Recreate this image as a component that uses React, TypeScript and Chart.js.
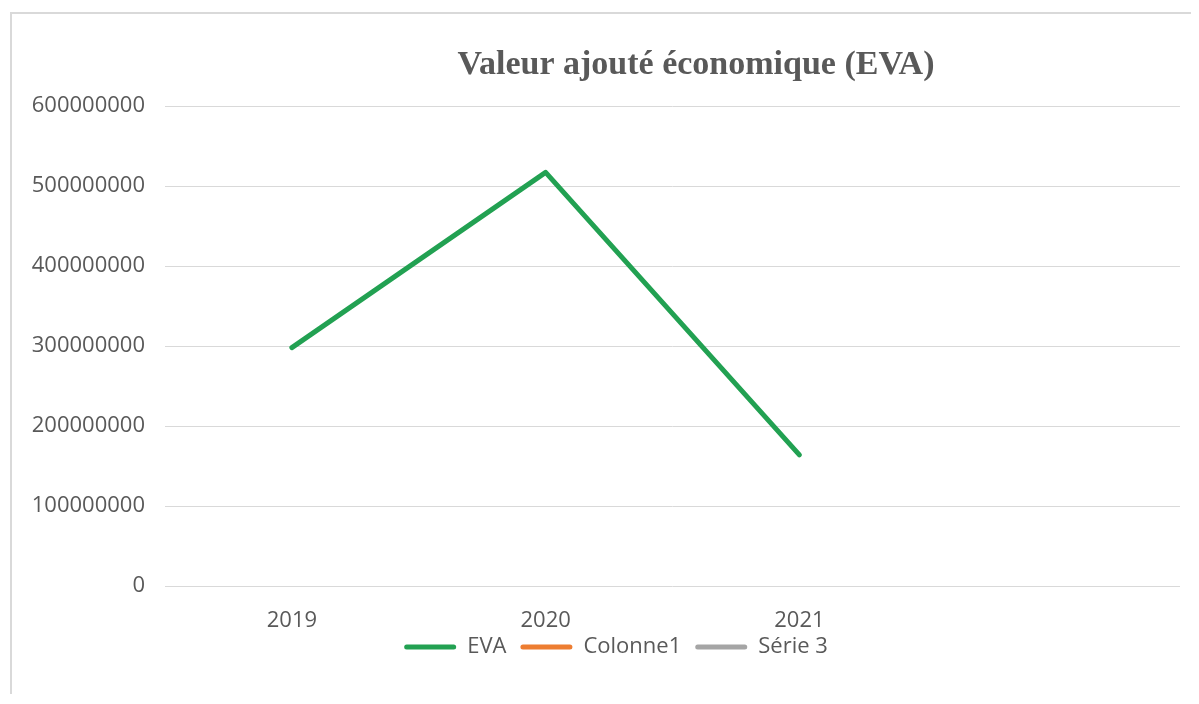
import React, { useEffect, useRef } from "react";
import { Chart, registerables } from "chart.js";

Chart.register(...registerables);

const chartTitle = "Valeur ajouté économique (EVA)";
const categories = ["2019", "2020", "2021", ""];
const evaValues: (number | null)[] = [298000000, 517000000, 164000000, null];
const colonne1Values: (number | null)[] = [null, null, null, null];
const serie3Values: (number | null)[] = [null, null, null, null];
const seriesNames = ["EVA", "Colonne1", "Série 3"];
const seriesColors = ["#22A152", "#ED7D31", "#A5A5A5"];
const yMin = 0;
const yMax = 600000000;
const yStep = 100000000;

const TICK_FONT = "'Open Sans', 'Noto Sans', sans-serif";

export default function App() {
  const canvasRef = useRef<HTMLCanvasElement | null>(null);

  useEffect(() => {
    if (!canvasRef.current) return;

    const titlePlugin = {
      id: "customTitle",
      afterLayout(chart: any) {
        if (chart.legend) {
          chart.legend.left += 20;
          chart.legend.right += 20;
          chart.legend.top -= 12;
          chart.legend.bottom -= 12;
        }
      },
      afterDraw(chart: any) {
        const ctx = chart.ctx;
        ctx.save();
        ctx.font = "bold 34px 'Liberation Serif', 'Times New Roman', serif";
        ctx.fillStyle = "#595959";
        ctx.textAlign = "center";
        ctx.textBaseline = "alphabetic";
        ctx.fillText(chartTitle, 684, 60);
        ctx.restore();
      },
    };

    const chart = new Chart(canvasRef.current, {
      type: "line",
      data: {
        labels: categories,
        datasets: [
          {
            label: seriesNames[0],
            data: evaValues,
            borderColor: seriesColors[0],
            backgroundColor: seriesColors[0],
            borderWidth: 5,
            pointRadius: 0,
            borderCapStyle: "round",
            borderJoinStyle: "round",
            tension: 0,
          },
          {
            label: seriesNames[1],
            data: colonne1Values,
            borderColor: seriesColors[1],
            backgroundColor: seriesColors[1],
            borderWidth: 5,
            pointRadius: 0,
          },
          {
            label: seriesNames[2],
            data: serie3Values,
            borderColor: seriesColors[2],
            backgroundColor: seriesColors[2],
            borderWidth: 5,
            pointRadius: 0,
          },
        ],
      },
      options: {
        animation: false,
        responsive: false,
        maintainAspectRatio: false,
        layout: {
          padding: { top: 92, right: 11, left: 0, bottom: 14 },
        },
        plugins: {
          title: { display: false },
          tooltip: { enabled: false },
          legend: {
            display: true,
            position: "bottom",
            labels: {
              boxWidth: 52,
              boxHeight: 5,
              padding: 14,
              color: "#595959",
              font: { family: TICK_FONT, size: 22 },
              useBorderRadius: true,
              borderRadius: 2.5,
              generateLabels: (c: any) =>
                c.data.datasets.map((ds: any, i: number) => ({
                  text: ds.label,
                  fillStyle: seriesColors[i],
                  strokeStyle: seriesColors[i],
                  lineWidth: 0,
                  hidden: false,
                  datasetIndex: i,
                  fontColor: "#595959",
                  borderRadius: 2.5,
                })),
            },
          },
        },
        scales: {
          x: {
            type: "category",
            offset: true,
            grid: { display: false, drawTicks: false },
            border: { display: false },
            ticks: {
              padding: 22,
              color: "#595959",
              font: { family: TICK_FONT, size: 22 },
              maxRotation: 0,
              autoSkip: false,
            },
            afterFit: (s: any) => {
              s.height = 48;
            },
          },
          y: {
            min: yMin,
            max: yMax,
            grid: { color: "#D9D9D9", lineWidth: 1, drawTicks: false },
            border: { display: false },
            ticks: {
              stepSize: yStep,
              padding: 20,
              color: "#595959",
              font: { family: TICK_FONT, size: 22 },
              callback: (v: any) => String(v),
            },
            afterFit: (s: any) => {
              s.width = 153;
            },
          },
        },
      },
      plugins: [titlePlugin],
    });

    return () => chart.destroy();
  }, []);

  return (
    <div
      style={{
        marginTop: 4,
        marginLeft: 2,
        width: 1179,
        height: 680,
        borderTop: "2px solid #D9D9D9",
        borderLeft: "2px solid #D9D9D9",
        position: "relative",
        background: "#ffffff",
      }}
    >
      <canvas ref={canvasRef} width={1179} height={680} style={{ display: "block" }} />
    </div>
  );
}
